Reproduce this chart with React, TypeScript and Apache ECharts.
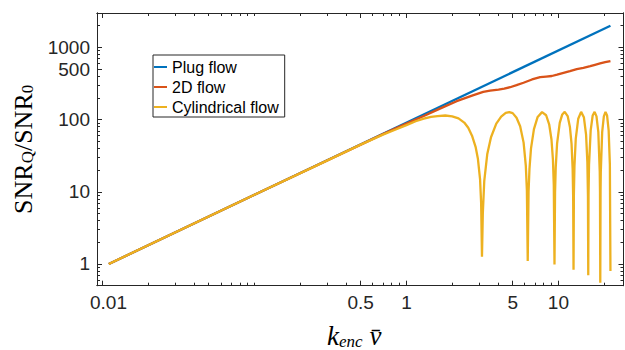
import React, { useEffect, useRef } from 'react';
import * as echarts from 'echarts';

// ---- data ----
const seriesNames = ['Plug flow', '2D flow', 'Cylindrical flow'];
const seriesColors = ['#0072BD', '#D95319', '#EDB120'];

const plugX = [0.011, 21.99];
const plugY = [1, 2000];

const flow2dX = [0.011, 0.1, 0.5, 0.7, 0.85, 1.0, 1.3, 1.66, 2.14, 2.76, 3.2, 3.55, 4.03, 4.4, 4.81, 5.3, 5.89, 6.7, 7.58, 8.3, 9.05, 9.8, 10.8, 11.9, 13.2, 14.6, 16.2, 17.4, 18.8, 20.3, 21.99];
const flow2dY = [1, 9.1, 45, 63, 76, 88, 112, 142, 180, 218, 242, 253, 261, 268, 281, 300, 324, 360, 387, 395, 402, 420, 445, 470, 500, 520, 550, 575, 600, 625, 648];

const cylX = [0.011, 0.1, 0.3, 0.5, 0.7, 0.85, 1.0, 1.15, 1.3, 1.45, 1.6, 1.8, 2.0, 2.2, 2.4, 2.55, 2.7, 2.85, 2.95, 3.05, 3.1, 3.14, 3.18, 3.25, 3.4, 3.6, 3.9, 4.2, 4.5, 4.75, 5.0, 5.3, 5.6, 5.9, 6.1, 6.2, 6.28, 6.36, 6.45, 6.6, 6.9, 7.3, 7.8, 8.3, 8.7, 9.0, 9.2, 9.32, 9.42, 9.5, 9.6, 9.8, 10.2, 10.6, 11.0, 11.5, 11.9, 12.2, 12.4, 12.5, 12.57, 12.64, 12.75, 13.0, 13.5, 14.1, 14.7, 15.2, 15.5, 15.64, 15.71, 15.78, 15.9, 16.3, 16.8, 17.3, 17.8, 18.3, 18.7, 18.77, 18.85, 18.93, 19.0, 19.4, 19.9, 20.4, 20.9, 21.4, 21.8, 21.99];
const cylY = [1, 9.1, 27, 45, 62, 73, 84, 95, 103, 109, 112, 114, 111, 104, 91, 77, 60, 42, 29, 15, 7, 1.26, 5, 14, 33, 57, 88, 110, 124, 127, 123, 106, 81, 48, 23, 10.5, 1.1, 10, 21, 40, 74, 109, 127, 115, 85, 53, 28, 12.5, 0.98, 9.6, 22, 47, 90, 118, 128, 112, 79, 46, 21, 8.4, 0.83, 9.4, 23, 54, 103, 128, 108, 62, 26, 8.7, 0.7, 9.2, 24, 71, 114, 128, 111, 67, 19, 10, 0.55, 10, 19, 67, 111, 128, 114, 71, 24, 0.8];

const xRange = [0.0092, 26.8];
const yRange = [0.5, 3000];

const xMajor = [0.01, 0.5, 1, 5, 10];
const xMajorLabels = ['0.01', '0.5', '1', '5', '10'];
const xMinor = [0.01, 0.02, 0.03, 0.04, 0.05, 0.06, 0.07, 0.08, 0.09, 0.1, 0.2, 0.3, 0.4, 0.5, 0.6, 0.7, 0.8, 0.9, 1, 2, 3, 4, 5, 6, 7, 8, 9, 10, 20];

const yMajor = [1, 10, 100, 500, 1000];
const yMajorLabels = ['1', '10', '100', '500', '1000'];
const yMinor = [0.6, 0.7, 0.8, 0.9, 1, 2, 3, 4, 5, 6, 7, 8, 9, 10, 20, 30, 40, 50, 60, 70, 80, 90, 100, 200, 300, 400, 500, 600, 700, 800, 900, 1000, 2000];

// ---- helpers ----
const L = (v: number) => Math.log10(v);
const AX = '#262626';
const SANS = 'Liberation Sans, Arial, sans-serif';
const SERIF = 'Liberation Serif, Times New Roman, serif';

function labelFor(values: number[], labels: string[], v: number): string {
  for (let i = 0; i < values.length; i++) {
    if (Math.abs(L(values[i]) - v) < 1e-6) return labels[i];
  }
  return '';
}

function makeAxis(
  position: 'bottom' | 'top' | 'left' | 'right',
  range: number[],
  ticks: number[],
  tickLen: number,
  labelValues: number[] | null,
  labelTexts: string[] | null,
  extra: any = {}
) {
  return {
    type: 'value',
    position,
    min: L(range[0]),
    max: L(range[1]),
    axisLine: { show: true, onZero: false, lineStyle: { color: AX, width: 1 } },
    axisTick: {
      show: true,
      inside: true,
      length: tickLen,
      customValues: ticks.map(L),
      lineStyle: { color: AX, width: 1 },
    },
    axisLabel: labelValues
      ? {
          show: true,
          customValues: labelValues.map(L),
          formatter: (v: number) => {
            const t = labelFor(labelValues, labelTexts as string[], v);
            return t === '0.01' ? '{s|' + t + '}' : t;
          },
          color: AX,
          fontFamily: SANS,
          fontSize: 19,
          margin: 7,
          rich: { s: { fontFamily: SANS, fontSize: 19, color: AX, padding: [0, 0, 0, 12] } },
        }
      : { show: false },
    splitLine: { show: false },
    ...extra,
  };
}

export default function App() {
  const ref = useRef<HTMLDivElement>(null);

  useEffect(() => {
    if (!ref.current) return;
    const chart = echarts.init(ref.current, null, { renderer: 'svg' });

    const xs = [plugX, flow2dX, cylX];
    const ys = [plugY, flow2dY, cylY];

    const series = seriesNames.map((name, i) => ({
      name,
      type: 'line',
      xAxisIndex: 0,
      yAxisIndex: 0,
      data: xs[i].map((x, j) => [L(x), L(ys[i][j])]),
      showSymbol: false,
      symbol: 'none',
      color: seriesColors[i],
      lineStyle: { color: seriesColors[i], width: 2.3 },
      z: 2 + i,
    }));

    const mainSerif = { fontFamily: SERIF, fontSize: 26, lineHeight: 30, verticalAlign: 'bottom', color: '#000' };
    const subSerif = { fontFamily: SERIF, fontSize: 17, lineHeight: 14, verticalAlign: 'bottom', color: '#000' };

    chart.setOption({
      animation: false,
      textStyle: { fontFamily: SANS },
      grid: { left: 97, top: 13, right: 1.5, bottom: 64.3, containLabel: false, outerBoundsMode: 'none' },
      xAxis: [
        makeAxis('bottom', xRange, xMajor, 5, xMajor, xMajorLabels, {
          name: '{k|k}{e|enc}{v| v\u0304}',
          nameLocation: 'middle',
          nameGap: 34,
          nameTextStyle: {
            padding: [0, 12, 0, 0],
            rich: {
              k: { ...mainSerif, fontSize: 27, fontStyle: 'italic' },
              e: { ...subSerif, fontStyle: 'italic' },
              v: { ...mainSerif, fontSize: 27, fontStyle: 'italic' },
            },
          },
        }),
        makeAxis('bottom', xRange, xMinor, 3, null, null),
        makeAxis('top', xRange, xMajor, 5, null, null),
        makeAxis('top', xRange, xMinor, 3, null, null),
      ],
      yAxis: [
        makeAxis('left', yRange, yMajor, 5, yMajor, yMajorLabels, {
          name: '{m|SNR}{s|Q}{m|/SNR}{s|0}',
          nameLocation: 'middle',
          nameRotate: 90,
          nameGap: 61,
          nameTextStyle: {
            rich: {
              m: mainSerif,
              s: subSerif,
            },
          },
        }),
        makeAxis('left', yRange, yMinor, 3, null, null),
        makeAxis('right', yRange, yMajor, 5, null, null),
        makeAxis('right', yRange, yMinor, 3, null, null),
      ],
      legend: {
        orient: 'vertical',
        left: 153,
        top: 55,
        data: seriesNames,
        icon: 'rect',
        itemWidth: 13,
        itemHeight: 2,
        itemGap: 4,
        padding: [4, 6, 2, 1],
        borderColor: AX,
        borderWidth: 1,
        borderRadius: 0,
        backgroundColor: '#ffffff',
        textStyle: { fontFamily: SANS, fontSize: 16, color: '#000', lineHeight: 16 },
      },
      series,
    });

    return () => chart.dispose();
  }, []);

  return (
    <div
      ref={ref}
      style={{ position: 'fixed', left: 0, top: 0, width: 625, height: 350, background: '#fff' }}
    />
  );
}
